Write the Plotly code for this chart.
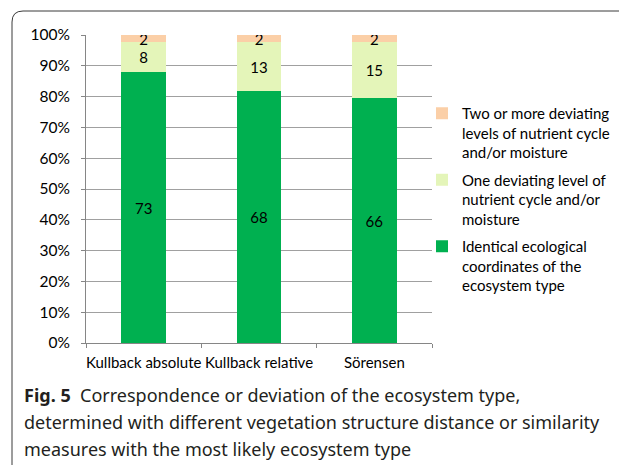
import plotly.graph_objects as go

# data
categories = ["Kullback absolute", "Kullback relative", "Sörensen"]
identical = [73, 68, 66]
one_level = [8, 13, 15]
two_more = [2, 2, 2]

series_names = [
    "Identical ecological<br>coordinates of the<br>ecosystem type",
    "One deviating level of<br>nutrient cycle and/or<br>moisture",
    "Two or more deviating<br>levels of nutrient cycle<br>and/or moisture",
]
series_colors = ["#00B050", "#E4F5B9", "#FBCFA7"]

caption_lines = [
    "<b>Fig. 5</b>  Correspondence or deviation of the ecosystem type,",
    "determined with different vegetation structure distance or similarity",
    "measures with the most likely ecosystem type",
]

OFF = 8                          # page body margin
W, H = 627 - OFF, 465 - OFF
L, R, T, B = 86 - OFF, 432 - OFF, 35 - OFF, 343 - OFF   # plot area, pixels


def px(x):
    return (x - OFF - L) / (R - L)


def py(y):
    return (B - (y - OFF)) / (B - T)


fig = go.Figure()
for n, (vals, name, col) in enumerate(zip([identical, one_level, two_more], series_names, series_colors)):
    fig.add_trace(go.Bar(
        x=categories, y=vals, name=name,
        legendgroup=f"g{n}", legendrank=1000 - n,   # top segment first in legend
        marker=dict(color=col, line=dict(width=0)),
        text=vals, textposition="inside", insidetextanchor="middle",
        textangle=0, constraintext="none",
        textfont=dict(color="black", size=15, family="Lato"),
        width=0.39,
    ))

fig.update_layout(
    width=W, height=H,
    barmode="stack", barnorm="percent",
    paper_bgcolor="white", plot_bgcolor="white",
    margin=dict(l=L, r=W - R, t=T, b=H - B, pad=0, autoexpand=False),
    font=dict(family="Lato", size=15, color="black"),
    uniformtext=dict(minsize=15, mode="show"),
    legend=dict(
        x=px(422), y=py(97), xanchor="left", yanchor="top",
        traceorder="grouped", valign="top", tracegroupgap=5,
        font=dict(size=15, family="Lato", color="black"),
        itemwidth=30, bgcolor="rgba(0,0,0,0)",
    ),
    showlegend=True,
)

fig.update_yaxes(
    range=[0, 100], dtick=10, ticksuffix="%",
    showgrid=True, gridcolor="#A0A0A0", gridwidth=1,
    showline=True, linecolor="#868686", linewidth=1,
    ticks="outside", ticklen=4, tickcolor="#868686",
    ticklabelstandoff=8,
    tickfont=dict(size=15.5), zeroline=False,
)
fig.update_xaxes(
    showline=True, linecolor="#868686", linewidth=1,
    ticks="outside", ticklen=4, tickcolor="#868686",
    tickson="boundaries", tickfont=dict(size=15), tickangle=0,
    ticklabelstandoff=6,
    showgrid=False,
)

# frame around figure
r = 11
fig.add_shape(
    type="path", xref="paper", yref="paper",
    path=(f"M {px(12)},{py(480)} L {px(12)},{py(11 + r)} "
          f"Q {px(12)},{py(11)} {px(12 + r)},{py(11)} L {px(640)},{py(11)}"),
    line=dict(color="#3A3A3A", width=1),
)

# caption
for i, line in enumerate(caption_lines):
    fig.add_annotation(
        text=line, xref="paper", yref="paper",
        x=px(22), y=py(381 + 27 * i), xanchor="left", yanchor="top",
        showarrow=False, align="left",
        font=dict(family="Noto Sans", size=18, color="#231F20"),
    )

fig.write_html("out.html")
